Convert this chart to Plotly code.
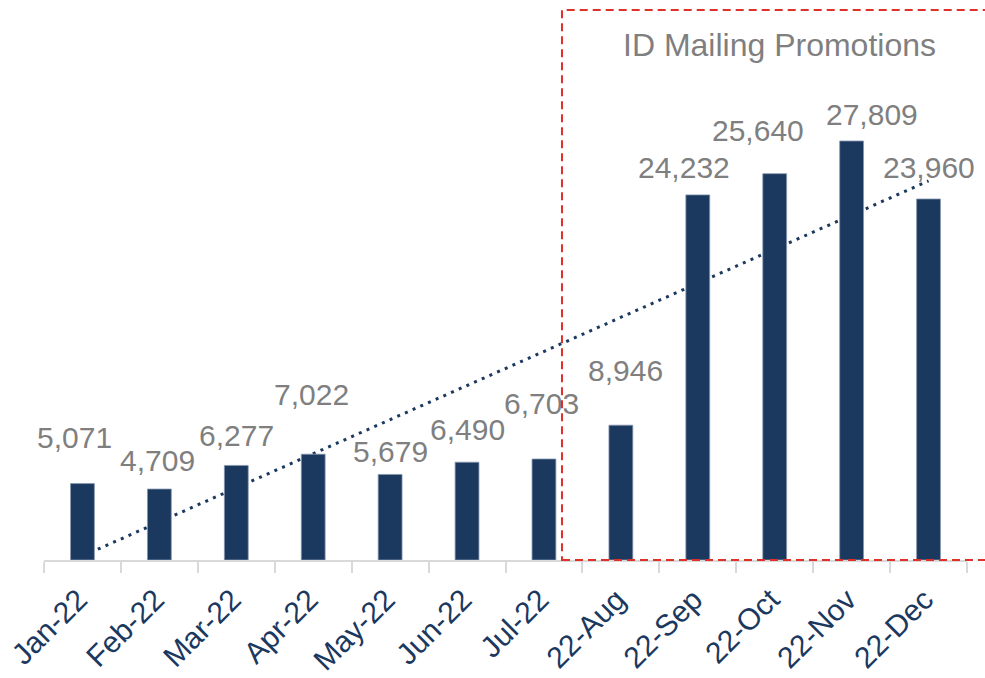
import numpy as np
import plotly.graph_objects as go

months = ["Jan-22", "Feb-22", "Mar-22", "Apr-22", "May-22", "Jun-22", "Jul-22",
          "22-Aug", "22-Sep", "22-Oct", "22-Nov", "22-Dec"]
values = [5071, 4709, 6277, 7022, 5679, 6490, 6703, 8946, 24232, 25640, 27809, 23960]
title_text = "ID Mailing Promotions"

# label offsets (pixels) relative to bar top/centre, as placed in the original
label_dx = [-7.5, -1.5, 0, -2, 0, 0, -2, 5, -14, -17, 20.5, 0]
label_dy = [43.6, 27, 28.4, 58.2, 21.4, 31.2, 54, 53.2, 25, 40.7, 24, 29]

NAVY = "#1b385f"
GRAY = "#7f7f7f"
RED = "#e0302a"
FONT = "Liberation Sans, Arial, sans-serif"

# linear trendline (least squares), as Excel draws it
xi = np.arange(1, len(values) + 1)
slope, intercept = np.polyfit(xi, values, 1)
trend = slope * xi + intercept

ymax = 36503

fig = go.Figure()
fig.add_trace(go.Scatter(x=months, y=trend, mode="lines", xaxis="x", yaxis="y",
                         line=dict(color=NAVY, width=3, dash="3px,5.4px"),
                         hoverinfo="skip", showlegend=False))
fig.add_trace(go.Bar(x=months, y=values, xaxis="x2", yaxis="y2",
                     marker=dict(color=NAVY, line=dict(color="#8797ad", width=0.8)),
                     showlegend=False))

for m, v, dx, dy in zip(months, values, label_dx, label_dy):
    fig.add_annotation(x=m, y=v, xref="x", yref="y", text=f"{v:,}",
                       showarrow=False, xanchor="center", yanchor="middle",
                       xshift=dx, yshift=dy + 2,
                       font=dict(family=FONT, size=30, color=GRAY))

# title of the highlighted region
fig.add_annotation(x=0.797, y=0.936, xref="paper", yref="paper", text=title_text,
                   showarrow=False, xanchor="center", yanchor="middle",
                   font=dict(family=FONT, size=32, color=GRAY))

# dashed highlight box (extends beyond the right edge)
fig.add_shape(type="rect", xref="paper", yref="paper",
              x0=0.5612, x1=1.08, y0=0.0, y1=1.0,
              line=dict(color=RED, width=2, dash="8px,5px"),
              fillcolor="rgba(0,0,0,0)", layer="above")

fig.update_layout(
    width=985, height=678,
    margin=dict(l=44, r=18, t=10, b=118, autoexpand=False),
    paper_bgcolor="white", plot_bgcolor="white",
    bargap=0.69,
    xaxis=dict(type="category", range=[-0.5, 11.5], showgrid=False, zeroline=False,
               automargin=False,
               showline=True, linecolor="#d9d9d9", linewidth=2,
               ticks="outside", tickson="boundaries", ticklen=11, tickwidth=2,
               tickcolor="#d9d9d9", tickangle=-45, ticklabelstandoff=8,
               ticklabelshift=-4,
               tickfont=dict(family=FONT, size=30, color=NAVY)),
    yaxis=dict(range=[0, ymax], visible=False, showgrid=False, zeroline=False,
               automargin=False),
    xaxis2=dict(type="category", range=[-0.5, 11.5], overlaying="x", visible=False),
    yaxis2=dict(range=[0, ymax], overlaying="y", visible=False),
)

fig.write_html("out.html")
